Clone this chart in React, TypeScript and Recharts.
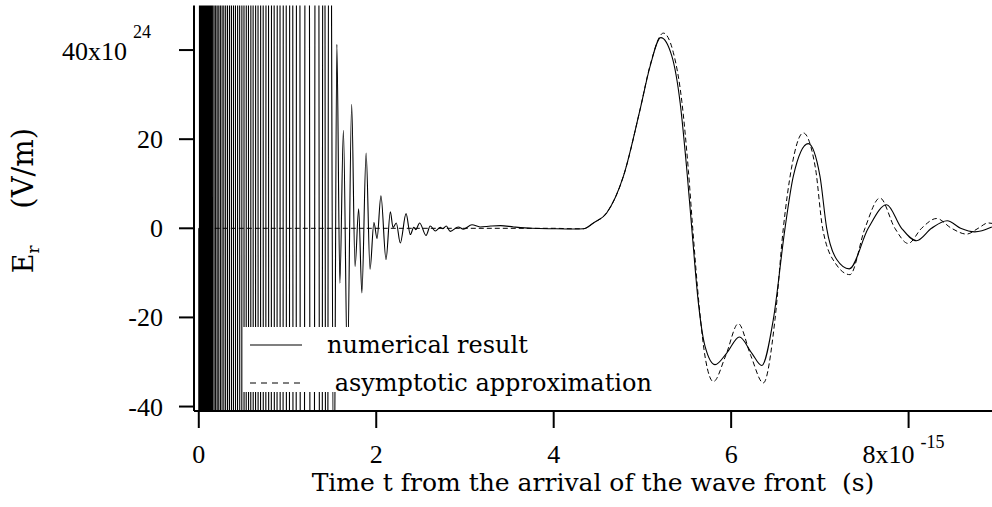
import { LineChart, Line, XAxis, YAxis, Legend, Label } from 'recharts'

// time axis in units of 1e-15 s, field in units of 1e24 V/m
const X_TICKS = [0, 2, 4, 6, 8]
const Y_TICKS = [-40, -20, 0, 20, 40]
const X_EXP = '-15'
const Y_EXP = '24'
const X_TITLE = 'Time t from the arrival of the wave front  (s)'
const Y_TITLE_MAIN = 'E'
const Y_TITLE_SUB = 'r'
const Y_TITLE_UNIT = '(V/m)'

// numerical result: fast oscillations right after the wave front (clipped by the axes)
const NUM_FRONT: [number, number][] = [
  [0, 0], [0.005, -4000], [0.01, 4000], [0.015, -3900], [0.02, 3900], [0.026, -3800],
  [0.032, 3800], [0.038, -3700], [0.044, 3700], [0.05, -3600], [0.057, 3500], [0.064, -3400],
  [0.071, 3300], [0.078, -3200], [0.086, 3100], [0.094, -3000], [0.102, 2900], [0.111, -2800],
  [0.12, 2700], [0.129, -2600], [0.139, 2500], [0.149, -2400],
  [0.164, 2300], [0.181, -2200], [0.198, 2100], [0.216, -2000], [0.234, 1950], [0.253, -1900],
  [0.272, 1850], [0.292, -1800],
  [0.313, 1750], [0.335, -1700], [0.357, 1650], [0.379, -1600], [0.402, 1550], [0.425, -1500],
  [0.449, 1450], [0.473, -1400], [0.497, 1350], [0.522, -1300], [0.547, 1250], [0.573, -1200],
  [0.599, 1150],
  [0.626, -1100], [0.654, 1050], [0.682, -1000], [0.711, 960], [0.741, -920], [0.771, 880],
  [0.802, -840], [0.834, 800], [0.866, -760], [0.899, 720], [0.933, -680], [0.968, 640],
  [1.004, -600], [1.041, 560], [1.079, -520], [1.118, 480],
  [1.164, -440], [1.221, 400], [1.277, -360], [1.333, 320], [1.378, -280], [1.408, 240],
  [1.44, -200], [1.472, 150], [1.523, -70],
]

// numerical result: damped ringing that dies out before the main pulse
const NUM_RING: [number, number][] = [
  [1.556, 41.3], [1.59, -12.3], [1.63, 22.0], [1.675, -32], [1.723, 27.8], [1.761, -8.6],
  [1.802, 4.4], [1.838, -14.5], [1.886, 16.9], [1.93, -9.2], [1.974, 1.3], [2.009, -2.3],
  [2.053, 7.3], [2.11, -7.0], [2.159, 3.7], [2.189, 0.2], [2.226, 1.2], [2.271, -3.3],
  [2.336, 3.3], [2.384, -1.4], [2.423, 0.2], [2.446, -0.3], [2.489, 1.2], [2.561, -1.6],
  [2.609, 0.5], [2.666, -0.6], [2.722, 0.2], [2.75, -0.1], [2.789, 0.5], [2.834, -0.7],
  [2.925, 0.3], [2.981, -0.2], [3.079, 0.8], [3.17, 0.3], [3.29, 0.5], [3.4, 0.6],
  [3.55, 0.3], [3.75, 0.0], [4.0, -0.1],
]

// numerical result: main pulse
const NUM_PULSE: [number, number][] = [
  [4.223, -0.15], [4.336, -0.1], [4.448, 1.2], [4.599, 3.5], [4.786, 11.7], [4.974, 26.7],
  [5.087, 36.4], [5.207, 42.8], [5.331, 38.7], [5.425, 28.2], [5.5, 13.2], [5.556, 0.1],
  [5.631, -16.8], [5.706, -26.5], [5.819, -30.6], [5.95, -28.0], [6.093, -24.4], [6.232, -28.0],
  [6.345, -30.8], [6.475, -20.5], [6.607, 0], [6.701, 11.7], [6.869, 19.0], [7.001, 11.7],
  [7.077, 0], [7.19, -7.0], [7.331, -9.1], [7.545, 0], [7.752, 5.3], [7.921, 0],
  [8.09, -2.8], [8.259, 0], [8.435, 1.7], [8.586, 0], [8.747, -0.8], [8.938, 0.3],
]

// asymptotic approximation
const ASYMPTOTIC: [number, number][] = [
  [0, 0], [4.0, 0], [4.223, -0.1], [4.336, -0.1], [4.448, 1.2], [4.599, 3.5],
  [4.786, 11.7], [4.974, 26.7], [5.087, 36.6], [5.236, 43.8], [5.349, 39.4], [5.444, 28.5],
  [5.518, 13.0], [5.567, 0], [5.64, -17.5], [5.712, -29.5], [5.8, -34.4], [5.94, -28.5],
  [6.081, -21.4], [6.22, -28.5], [6.363, -34.7], [6.494, -20.5], [6.588, 0], [6.68, 13.5],
  [6.813, 21.4], [6.95, 13.5], [7.031, 0], [7.18, -8.0], [7.339, -10.4], [7.508, 0],
  [7.677, 6.8], [7.846, 0], [7.995, -3.4], [8.146, 0], [8.315, 2.2], [8.484, 0],
  [8.653, -1.3], [8.784, 0], [8.896, 1.2], [8.94, 1.1],
]

const toPoints = (rows: [number, number][]) => rows.map(([t, v]) => ({ t, v }))
const numerical = toPoints([...NUM_FRONT, ...NUM_RING, ...NUM_PULSE])
const asymptotic = toPoints(ASYMPTOTIC)

const TEXT_FONT = '"DejaVu Serif", serif'
const NUM_FONT = '"Liberation Serif", serif'

function XTick({ x, y, payload }: any) {
  const v = payload.value
  if (v === X_TICKS[X_TICKS.length - 1]) {
    return (
      <g fontFamily={NUM_FONT}>
        <text x={x + 6} y={y + 35} textAnchor="end" fontSize={26}>{`${v}x10`}</text>
        <text x={x + 12} y={y + 20} fontSize={18}>{X_EXP}</text>
      </g>
    )
  }
  return (
    <text x={x} y={y + 35} textAnchor="middle" fontSize={26} fontFamily={NUM_FONT}>
      {v}
    </text>
  )
}

function YTick({ x, y, payload }: any) {
  const v = payload.value
  if (v === Y_TICKS[Y_TICKS.length - 1]) {
    return (
      <g fontFamily={NUM_FONT}>
        <text x={x - 52} y={y + 10} textAnchor="end" fontSize={26}>{`${v}x10`}</text>
        <text x={x - 46} y={y - 12} fontSize={18}>{Y_EXP}</text>
      </g>
    )
  }
  return (
    <text x={x - 16} y={y + 9} textAnchor="end" fontSize={26} fontFamily={NUM_FONT}>
      {v}
    </text>
  )
}

function YTitle({ viewBox }: any) {
  const cy = viewBox.y + viewBox.height / 2
  const bx = 33
  return (
    <g fontFamily={TEXT_FONT}>
      <text transform={`rotate(-90 ${bx} ${cy + 51})`} x={bx} y={cy + 51} textAnchor="middle" fontSize={27}>
        {Y_TITLE_MAIN}
        <tspan dy={6} fontSize={17}>{Y_TITLE_SUB}</tspan>
      </text>
      <text transform={`rotate(-90 ${bx} ${cy - 40})`} x={bx} y={cy - 40} textAnchor="middle" fontSize={29}>
        {Y_TITLE_UNIT}
      </text>
    </g>
  )
}

function XTitle({ viewBox }: any) {
  return (
    <text
      x={viewBox.x + viewBox.width / 2}
      y={viewBox.y + 80}
      textAnchor="middle"
      fontSize={25}
      fontFamily={TEXT_FONT}
      style={{ whiteSpace: 'pre' }}
    >
      {X_TITLE}
    </text>
  )
}

function LegendBox({ payload }: any) {
  // solid series first, dashed below it
  const items = [...(payload ?? [])].sort(
    (a: any, b: any) => Number(!!a.payload?.strokeDasharray) - Number(!!b.payload?.strokeDasharray),
  )
  return (
    <svg width={427} height={76} style={{ display: 'block', overflow: 'visible', fontFamily: TEXT_FONT }}>
      <rect x={0} y={0} width={427} height={65} fill="#fff" />
      {items.map((entry: any, i: number) => {
        const dashed = !!entry.payload?.strokeDasharray
        const ly = i === 0 ? 18 : 56
        return (
          <g key={entry.value}>
            <line
              x1={7}
              x2={59}
              y1={ly}
              y2={ly}
              stroke="#000"
              strokeWidth={dashed ? 1 : 1.2}
              strokeDasharray={dashed ? '6 5' : undefined}
            />
            <text x={84} y={ly + 8} fontSize={24} style={{ whiteSpace: 'pre' }}>
              {entry.value}
            </text>
          </g>
        )
      })}
    </svg>
  )
}

const axisStroke = { stroke: '#000', strokeWidth: 2 }

export default function App() {
  return (
    <div style={{ position: 'absolute', left: 0, top: 0, background: '#fff', fontFamily: TEXT_FONT }}>
      <LineChart width={992} height={507} margin={{ top: 5.5, right: 0, bottom: 36, left: 94 }}>
        <XAxis
          type="number"
          dataKey="t"
          domain={[-0.054, 8.94]}
          ticks={X_TICKS}
          interval={0}
          allowDataOverflow
          height={60}
          tickSize={17}
          tickMargin={0}
          tick={<XTick />}
          tickLine={axisStroke}
          axisLine={axisStroke}
        >
          <Label content={<XTitle />} />
        </XAxis>
        <YAxis
          type="number"
          dataKey="v"
          domain={[-41, 50]}
          ticks={Y_TICKS}
          interval={0}
          allowDataOverflow
          width={100}
          tickSize={15}
          tickMargin={0}
          tick={<YTick />}
          tickLine={axisStroke}
          axisLine={axisStroke}
        >
          <Label content={<YTitle />} />
        </YAxis>
        <Line
          data={numerical}
          dataKey="v"
          name="numerical result"
          type="monotone"
          stroke="#000"
          strokeWidth={1.1}
          dot={false}
          activeDot={false}
          isAnimationActive={false}
        />
        <Line
          data={asymptotic}
          dataKey="v"
          name=" asymptotic approximation"
          type="monotone"
          stroke="#000"
          strokeWidth={1}
          strokeDasharray="5 3"
          dot={false}
          activeDot={false}
          isAnimationActive={false}
        />
        <Legend
          layout="horizontal"
          verticalAlign="middle"
          align="center"
          wrapperStyle={{ left: 243, top: 327, width: 427, height: 65 }}
          content={<LegendBox />}
        />
      </LineChart>
    </div>
  )
}
